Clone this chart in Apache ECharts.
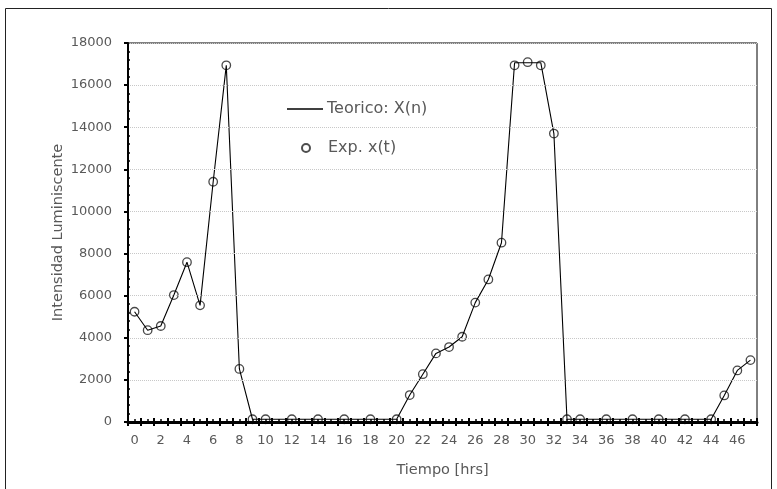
<!DOCTYPE html>
<html>
<head>
<meta charset="utf-8">
<script src="https://cdn.jsdelivr.net/npm/echarts@6/dist/echarts.min.js"></script>
<style>
html,body{margin:0;padding:0;background:#fff;}
#chart{width:777px;height:489px;}
</style>
</head>
<body>
<div id="chart"></div>
<script>
// Categories (hours)
const hours = ['0','1','2','3','4','5','6','7','8','9','10','11','12','13','14','15','16','17','18','19','20','21','22','23',
               '24','25','26','27','28','29','30','31','32','33','34','35','36','37','38','39','40','41','42','43','44','45','46','47'];
// Theoretical X(n), one value per hour
const teorico = [5235,4360,4560,6030,7590,5540,11410,16940,2520,130,130,130,130,130,130,130,130,130,130,130,130,
                 1280,2270,3258,3560,4050,5670,6770,8515,17065,17065,17065,13700,130,130,130,130,130,130,130,130,130,130,130,130,
                 1260,2450,2940];
// Experimental x(t)
const expHours = [0,1,2,3,4,5,6,7,8,9,10,12,14,16,18,20,21,22,23,24,25,26,27,28,29,30,31,32,33,34,36,38,40,42,44,45,46,47];
const expValues = [5235,4360,4560,6030,7590,5540,11410,16940,2520,130,130,130,130,130,130,130,1280,2270,3258,3560,4050,5670,6770,8515,
                   16940,17090,16940,13700,130,130,130,130,130,130,130,1260,2450,2940];
const yTicks = {min:0, max:18000, interval:2000};

const expData = expHours.map((h,i)=>[h, expValues[i]]);
const labelColor = '#595959';
const font = 'DejaVu Sans';

const chart = echarts.init(document.getElementById('chart'), null, {renderer:'canvas'});
const baseX = {
  type:'category', data: hours, boundaryGap:true, position:'bottom', gridIndex:0, z:4
};
chart.setOption({
  animation:false,
  backgroundColor:'#fff',
  graphic:[{type:'rect', shape:{x:5.5,y:8.5,width:766,height:500}, style:{fill:'none', stroke:'#222', lineWidth:1}, silent:true, z:-1}],
  grid:{left:128, right:20, top:43, bottom:67, show:true, borderColor:'#000', borderWidth:1, backgroundColor:'transparent'},
  legend:[
    {data:['Teorico: X(n)'], left:282, top:96, orient:'vertical', icon:'rect', itemWidth:36, itemHeight:1.3,
     itemStyle:{color:'#000'},
     textStyle:{color:labelColor, fontFamily:font, fontSize:16, padding:[0,0,0,-1]}},
    {data:['Exp. x(t)'], left:296, top:135, orient:'vertical', itemWidth:8, itemHeight:8,
     itemStyle:{borderWidth:2, borderColor:'#222', color:'rgba(0,0,0,0)'},
     textStyle:{color:labelColor, fontFamily:font, fontSize:16, padding:[0,0,0,13]}}
  ],
  xAxis:[
    Object.assign({}, baseX, {
      name:'Tiempo [hrs]', nameLocation:'middle', nameGap:41, nameMoveOverlap:false,
      nameTextStyle:{color:labelColor, fontFamily:font, fontSize:14.5},
      axisLine:{show:true, lineStyle:{color:'#000', width:3}},
      axisTick:{show:true, interval:0, inside:false, length:4, lineStyle:{color:'#000', width:2}},
      axisLabel:{show:true, interval:1, margin:12, color:labelColor, fontFamily:font, fontSize:13},
      splitLine:{show:false}
    }),
    Object.assign({}, baseX, {
      axisLine:{show:false},
      axisTick:{show:true, interval:0, inside:true, length:4, lineStyle:{color:'#000', width:2}},
      axisLabel:{show:false}, splitLine:{show:false}
    }),
    Object.assign({}, baseX, {
      axisLine:{show:false},
      axisTick:{show:true, interval:0, inside:true, alignWithLabel:true, length:3, lineStyle:{color:'#000', width:1.5}},
      axisLabel:{show:false}, splitLine:{show:false}
    })
  ],
  yAxis:[
    {type:'value', min:yTicks.min, max:yTicks.max, interval:yTicks.interval, position:'left', z:4,
     name:'Intensidad Luminiscente', nameLocation:'middle', nameGap:62, nameMoveOverlap:false,
     nameTextStyle:{color:labelColor, fontFamily:font, fontSize:14.5},
     axisLine:{show:true, lineStyle:{color:'#000', width:2}},
     axisTick:{show:true, inside:false, length:4, lineStyle:{color:'#000', width:2}},
     minorTick:{show:false},
     axisLabel:{margin:16, color:labelColor, fontFamily:font, fontSize:13, formatter:v=>String(v)},
     splitLine:{show:true, lineStyle:{color:'#c8c8c8', type:'dotted', width:1}}
    },
    {type:'value', min:yTicks.min, max:yTicks.max, interval:yTicks.interval, position:'left', z:4,
     axisLine:{show:false},
     axisTick:{show:false, inside:true},
     minorTick:{show:true, splitNumber:5, length:2, lineStyle:{color:'#000', width:1.5}},
     axisLabel:{show:false}, splitLine:{show:false}
    }
  ],
  series:[
    {name:'Exp. x(t)', type:'scatter', data:expData, xAxisIndex:0, yAxisIndex:0,
     symbol:'circle', symbolSize:8.5,
     itemStyle:{color:'rgba(0,0,0,0)', borderColor:'#1a1a1a', borderWidth:1.3}, z:2},
    {name:'Teorico: X(n)', type:'line', data:teorico, xAxisIndex:0, yAxisIndex:0,
     symbol:'none', lineStyle:{color:'#000', width:1.1}, itemStyle:{color:'#000'}, z:3}
  ]
});
</script>
</body>
</html>
